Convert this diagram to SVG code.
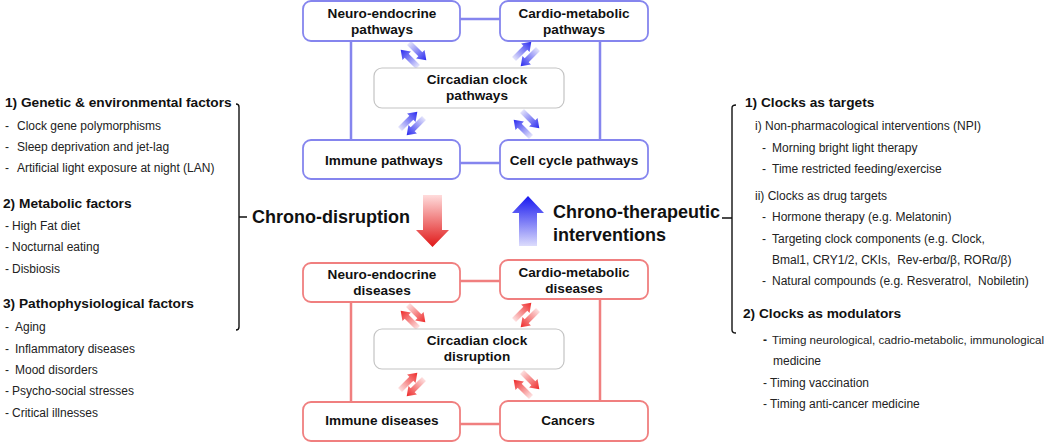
<svg xmlns="http://www.w3.org/2000/svg" xmlns:xlink="http://www.w3.org/1999/xlink" width="1050" height="442" viewBox="0 0 1050 442">
<style>
text{font-family:"Liberation Sans",Arial,sans-serif;fill:#111}
.nt{font-size:13.6px;font-weight:bold;text-anchor:middle}
.h{font-size:13.7px;font-weight:bold}
.it{font-size:12px;fill:#222}
.big{font-size:18px;font-weight:bold}
.bbox{fill:#fff;stroke:#8585ee;stroke-width:1.8}
.rbox{fill:#fff;stroke:#f07f7f;stroke-width:1.8}
.cbox{fill:#fff;stroke:#c4c4c4;stroke-width:1.2}
.bl{stroke:#8585ee;stroke-width:2.5;fill:none}
.rl{stroke:#f07f7f;stroke-width:2.5;fill:none}
.br{stroke:#111;stroke-width:1.4;fill:none}
</style>
<defs>
<linearGradient id="gb" x1="0" y1="0" x2="1" y2="0"><stop offset="0" stop-color="#e4e4fb"/><stop offset="1" stop-color="#2a2af0"/></linearGradient>
<linearGradient id="gr" x1="0" y1="0" x2="1" y2="0"><stop offset="0" stop-color="#fde0e0"/><stop offset="1" stop-color="#ee2a2a"/></linearGradient>
<linearGradient id="gbig_r" x1="0" y1="0" x2="0" y2="1"><stop offset="0" stop-color="#ffdcdc"/><stop offset="1" stop-color="#e01818"/></linearGradient>
<linearGradient id="gbig_b" x1="0" y1="1" x2="0" y2="0"><stop offset="0" stop-color="#dcdcfc"/><stop offset="1" stop-color="#1818f0"/></linearGradient>
<path id="sa" d="M0,-2.8 L16,-2.8 L16,-6 L24.5,0 L16,6 L16,2.8 L0,2.8 Z"/>
</defs>

<g id="connectors">
<path class="bl" d="M460,19 H500 M460,163 H500 M351,41 V140 M600,41 V140"/>
<path class="rl" d="M460,281 H500 M460,424 H500 M351,302 V402 M600,299 V401"/>
<g fill="url(#gb)">
<use xlink:href="#sa" transform="translate(418,67) rotate(-135)"/>
<use xlink:href="#sa" transform="translate(409,43) rotate(45)"/>
<use xlink:href="#sa" transform="translate(514,59) rotate(-45)"/>
<use xlink:href="#sa" transform="translate(538,49) rotate(135)"/>
<use xlink:href="#sa" transform="translate(400,129) rotate(-45)"/>
<use xlink:href="#sa" transform="translate(424,118) rotate(135)"/>
<use xlink:href="#sa" transform="translate(531,137) rotate(-135)"/>
<use xlink:href="#sa" transform="translate(522,111) rotate(45)"/>
</g>
<g fill="url(#gr)">
<use xlink:href="#sa" transform="translate(418,328) rotate(-135)"/>
<use xlink:href="#sa" transform="translate(408,305) rotate(45)"/>
<use xlink:href="#sa" transform="translate(514,320) rotate(-45)"/>
<use xlink:href="#sa" transform="translate(538,310) rotate(135)"/>
<use xlink:href="#sa" transform="translate(400,390) rotate(-45)"/>
<use xlink:href="#sa" transform="translate(424,379) rotate(135)"/>
<use xlink:href="#sa" transform="translate(531,397) rotate(-135)"/>
<use xlink:href="#sa" transform="translate(522,372) rotate(45)"/>
</g>
<path d="M423,195 H442 V230 H449 L432.5,247 L416,230 H423 Z" fill="url(#gbig_r)"/>
<path d="M519,246 V213 H512 L528,196 L544,213 H537 V246 Z" fill="url(#gbig_b)"/>
<path class="br" d="M236,104 Q239,104 239,107 V327 Q239,330 236,330 M239,217 H247"/>
<path class="br" d="M736,105 Q732,105 732,108 V330 Q732,333 736,333 M722,218 H732"/>
</g>

<g id="n-neuro-path"><rect class="bbox" x="303" y="1" width="157" height="40" rx="8"/><text class="nt" x="382" y="17.5">Neuro-endocrine</text><text class="nt" x="382" y="33.5">pathways</text></g>
<g id="n-cardio-path"><rect class="bbox" x="500" y="1" width="148" height="40" rx="8"/><text class="nt" x="574" y="17.5">Cardio-metabolic</text><text class="nt" x="574" y="33.5">pathways</text></g>
<g id="n-clock-path"><rect class="cbox" x="374" y="68" width="190" height="40" rx="8"/><text class="nt" x="477" y="84">Circadian clock</text><text class="nt" x="477" y="100">pathways</text></g>
<g id="n-immune-path"><rect class="bbox" x="303" y="140" width="157" height="39" rx="8"/><text class="nt" x="384" y="164.5">Immune pathways</text></g>
<g id="n-cell-path"><rect class="bbox" x="500" y="140" width="148" height="39" rx="8"/><text class="nt" x="574" y="164.5">Cell cycle pathways</text></g>

<g id="n-neuro-dis"><rect class="rbox" x="303" y="263" width="157" height="39" rx="8"/><text class="nt" x="382" y="279">Neuro-endocrine</text><text class="nt" x="382" y="295">diseases</text></g>
<g id="n-cardio-dis"><rect class="rbox" x="500" y="260" width="148" height="39" rx="8"/><text class="nt" x="574" y="277">Cardio-metabolic</text><text class="nt" x="574" y="293">diseases</text></g>
<g id="n-clock-dis"><rect class="cbox" x="374" y="329" width="190" height="40" rx="8"/><text class="nt" x="477" y="345">Circadian clock</text><text class="nt" x="477" y="361">disruption</text></g>
<g id="n-immune-dis"><rect class="rbox" x="303" y="402" width="157" height="39" rx="8"/><text class="nt" x="382" y="425">Immune diseases</text></g>
<g id="n-cancers"><rect class="rbox" x="500" y="401" width="148" height="40" rx="8"/><text class="nt" x="568" y="425">Cancers</text></g>

<g id="chrono-labels">
<text class="big" x="252" y="223">Chrono-disruption</text>
<text class="big" x="553" y="218">Chrono-therapeutic</text>
<text class="big" x="553" y="241">interventions</text>
</g>

<g id="left-list">
<text class="h" x="5" y="107">1) Genetic &amp; environmental factors</text>
<text class="it" y="130"><tspan x="5">-</tspan><tspan x="17">Clock gene polymorphisms</tspan></text>
<text class="it" y="151"><tspan x="5">-</tspan><tspan x="17">Sleep deprivation and jet-lag</tspan></text>
<text class="it" y="172"><tspan x="5">-</tspan><tspan x="17">Artificial light exposure at night (LAN)</tspan></text>
<text class="h" x="3" y="208">2) Metabolic factors</text>
<text class="it" y="230"><tspan x="5">-</tspan><tspan x="12">High Fat diet</tspan></text>
<text class="it" y="251"><tspan x="5">-</tspan><tspan x="12">Nocturnal eating</tspan></text>
<text class="it" y="273"><tspan x="5">-</tspan><tspan x="12">Disbiosis</tspan></text>
<text class="h" x="3" y="308">3) Pathophysiological factors</text>
<text class="it" y="331"><tspan x="5">-</tspan><tspan x="15">Aging</tspan></text>
<text class="it" y="353"><tspan x="5">-</tspan><tspan x="15">Inflammatory diseases</tspan></text>
<text class="it" y="374"><tspan x="5">-</tspan><tspan x="15">Mood disorders</tspan></text>
<text class="it" y="395"><tspan x="5">-</tspan><tspan x="12">Psycho-social stresses</tspan></text>
<text class="it" y="417"><tspan x="5">-</tspan><tspan x="12">Critical illnesses</tspan></text>
</g>

<g id="right-list">
<text class="h" x="745" y="107">1) Clocks as targets</text>
<text class="it" x="755" y="130">i) Non-pharmacological interventions (NPI)</text>
<text class="it" y="152"><tspan x="762">-</tspan><tspan x="772">Morning bright light therapy</tspan></text>
<text class="it" y="173"><tspan x="762">-</tspan><tspan x="772">Time restricted feeding/exercise</tspan></text>
<text class="it" x="755" y="200">ii) Clocks as drug targets</text>
<text class="it" y="221"><tspan x="762">-</tspan><tspan x="772">Hormone therapy (e.g. Melatonin)</tspan></text>
<text class="it" y="243"><tspan x="762">-</tspan><tspan x="772">Targeting clock components (e.g. Clock,</tspan></text>
<text class="it" x="772" y="264" xml:space="preserve">Bmal1, CRY1/2, CKIs,  Rev-erbα/β, RORα/β)</text>
<text class="it" y="285" xml:space="preserve"><tspan x="762">-</tspan><tspan x="772">Natural compounds (e.g. Resveratrol,  Nobiletin)</tspan></text>
<text class="h" x="743" y="318">2) Clocks as modulators</text>
<text class="it" y="344"><tspan x="763" font-weight="bold">-</tspan><tspan x="772" font-size="11.6px">Timing neurological, cadrio-metabolic, immunological</tspan></text>
<text class="it" x="773" y="365">medicine</text>
<text class="it" x="763" y="387">- Timing vaccination</text>
<text class="it" x="763" y="408">- Timing anti-cancer medicine</text>
</g>
</svg>
